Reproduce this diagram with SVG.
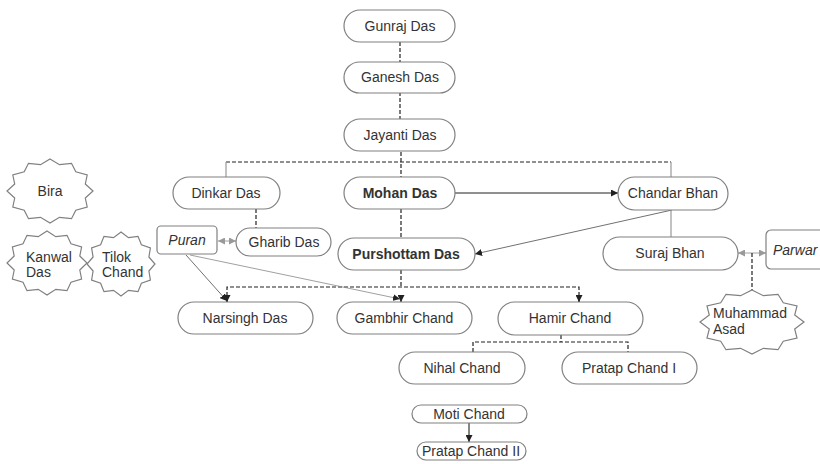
<svg xmlns="http://www.w3.org/2000/svg" width="820" height="464" viewBox="0 0 820 464">
<style>
.pill{fill:#fff;stroke:#808080;stroke-width:1.2}
.box{fill:#fff;stroke:#808080;stroke-width:1.2}
.star{fill:#fff;stroke:#808080;stroke-width:1.2;stroke-linejoin:miter}
text{font-family:"Liberation Sans",Arial,sans-serif;font-size:14px;fill:#333}
.c{text-anchor:middle}
.b{font-weight:bold}
.i{font-style:italic}
.dash{fill:none;stroke:#222;stroke-width:1.2;stroke-dasharray:4 2}
.solid{fill:none;stroke:#222;stroke-width:1.1}
.thin{fill:none;stroke:#333;stroke-width:0.7}
.grey{fill:none;stroke:#999;stroke-width:1.2}
.greythin{fill:none;stroke:#888;stroke-width:0.8}
</style>
<defs>
<marker id="ab" viewBox="0 0 10 10" refX="10" refY="5" markerWidth="7" markerHeight="7" markerUnits="userSpaceOnUse" orient="auto"><path d="M0,0 L10,5 L0,10 z" fill="#222"/></marker>
<marker id="ag" viewBox="0 0 10 10" refX="10" refY="5" markerWidth="7" markerHeight="7" markerUnits="userSpaceOnUse" orient="auto-start-reverse"><path d="M0,0 L10,5 L0,10 z" fill="#999"/></marker>
</defs>

<g id="connectors">
<line class="dash" x1="400" y1="42" x2="400" y2="63"/>
<line class="dash" x1="400" y1="92" x2="400" y2="120"/>
<line class="dash" x1="401" y1="152" x2="401" y2="177"/>
<line class="dash" x1="226" y1="162" x2="671" y2="162"/>
<line class="grey" x1="226" y1="162" x2="226" y2="177"/>
<line class="grey" x1="671" y1="162" x2="671" y2="177"/>
<line class="solid" x1="455" y1="193" x2="618" y2="193" marker-end="url(#ab)"/>
<line class="dash" x1="256" y1="209" x2="256" y2="228"/>
<line class="greythin" x1="218" y1="241" x2="236" y2="241" marker-start="url(#ag)" marker-end="url(#ag)"/>
<line class="dash" x1="401" y1="209" x2="401" y2="238"/>
<line class="thin" x1="672" y1="210" x2="475" y2="254" marker-end="url(#ab)"/>
<line class="grey" x1="671" y1="210" x2="671" y2="237"/>
<line class="greythin" x1="738" y1="253" x2="766" y2="253" marker-start="url(#ag)" marker-end="url(#ag)"/>
<line class="dash" x1="752" y1="253" x2="752" y2="291"/>
<line class="dash" x1="401" y1="270" x2="401" y2="287"/>
<polyline class="dash" points="227,302 227,287 579,287 579,302"/>
<line x1="227" y1="296" x2="227" y2="302" stroke="#222" stroke-width="1.2" marker-end="url(#ab)"/>
<line x1="401" y1="296" x2="401" y2="302" stroke="#222" stroke-width="1.2" marker-end="url(#ab)"/>
<line x1="579" y1="296" x2="579" y2="302" stroke="#222" stroke-width="1.2" marker-end="url(#ab)"/>
<line class="thin" x1="186" y1="255" x2="227" y2="301" marker-end="url(#ab)"/>
<line class="greythin" x1="190" y1="255" x2="400" y2="299" stroke="#555" marker-end="url(#ab)"/>
<line class="dash" x1="561" y1="335" x2="561" y2="342"/>
<polyline class="dash" points="473,352 473,342 628,342 628,352"/>
<line class="solid" x1="469" y1="423" x2="469" y2="442" marker-end="url(#ab)"/>
</g>

<g id="gunraj"><rect class="pill" x="344" y="10" width="111" height="32" rx="16"/><text class="c" x="400" y="31">Gunraj Das</text></g>
<g id="ganesh"><rect class="pill" x="344" y="62" width="111" height="31" rx="15.5"/><text class="c" x="400" y="82">Ganesh Das</text></g>
<g id="jayanti"><rect class="pill" x="344" y="119" width="111" height="32" rx="16"/><text class="c" x="400" y="140">Jayanti Das</text></g>
<g id="dinkar"><rect class="pill" x="173" y="177" width="107" height="32" rx="16"/><text class="c" x="226" y="198">Dinkar Das</text></g>
<g id="mohan"><rect class="pill" x="344" y="177" width="111" height="32" rx="16"/><text class="c b" x="400" y="198">Mohan Das</text></g>
<g id="chandar"><rect class="pill" x="618" y="177" width="110" height="33" rx="16.5"/><text class="c" x="673" y="198">Chandar Bhan</text></g>
<g id="puran"><rect class="box" x="157" y="226" width="60" height="28" rx="4"/><text class="c i" x="187" y="245">Puran</text></g>
<g id="gharib"><rect class="pill" x="236" y="228" width="95" height="28" rx="14"/><text class="c" x="284" y="247">Gharib Das</text></g>
<g id="purshottam"><rect class="pill" x="338" y="238" width="137" height="32" rx="16"/><text class="c b" x="406" y="259">Purshottam Das</text></g>
<g id="suraj"><rect class="pill" x="603" y="237" width="135" height="33" rx="16.5"/><text class="c" x="670" y="258">Suraj Bhan</text></g>
<g id="parwar"><rect class="box" x="766" y="230" width="70" height="39" rx="5"/><text class="i" x="773" y="255">Parwar</text></g>
<g id="narsingh"><rect class="pill" x="178" y="302" width="135" height="32" rx="16"/><text class="c" x="245" y="323">Narsingh Das</text></g>
<g id="gambhir"><rect class="pill" x="337" y="302" width="135" height="32" rx="16"/><text class="c" x="404" y="323">Gambhir Chand</text></g>
<g id="hamir"><rect class="pill" x="498" y="302" width="145" height="33" rx="16.5"/><text class="c" x="570" y="323">Hamir Chand</text></g>
<g id="nihal"><rect class="pill" x="399" y="352" width="126" height="32" rx="16"/><text class="c" x="462" y="373">Nihal Chand</text></g>
<g id="pratap1"><rect class="pill" x="562" y="352" width="135" height="32" rx="16"/><text class="c" x="629" y="373">Pratap Chand I</text></g>
<g id="moti"><rect class="pill" x="412" y="405" width="115" height="18" rx="9"/><text class="c" x="469" y="419">Moti Chand</text></g>
<g id="pratap2"><rect class="pill" x="417" y="442" width="109" height="18" rx="9"/><text class="c" x="471" y="456">Pratap Chand II</text></g>

<g id="bira"><polygon class="star" points="50,159 59.5,164.7 71.5,163.3 75.8,171.8 87.2,175 85.3,184 93,191 85.3,198 87.2,207 75.8,210.2 71.5,218.7 59.5,217.3 50,223 40.5,217.3 28.5,218.7 24.2,210.2 12.8,207 14.7,198 7,191 14.7,184 12.8,175 24.2,171.8 28.5,163.3 40.5,164.7"/><text class="c" x="50" y="196">Bira</text></g>
<g id="kanwal"><polygon class="star" points="47,231 55.8,236.7 67,235.3 71,243.8 81.6,247 79.8,256 87,263 79.8,270 81.6,279 71,282.2 67,290.7 55.8,289.3 47,295 38.2,289.3 27,290.7 23,282.2 12.4,279 14.2,270 7,263 14.2,256 12.4,247 23,243.8 27,235.3 38.2,236.7"/><text x="26" y="262">Kanwal</text><text x="26" y="277">Das</text></g>
<g id="tilok"><polygon class="star" points="121,232 128.5,237.7 138,236.3 141.4,244.8 150.4,248 148.9,257 155,264 148.9,271 150.4,280 141.4,283.2 138,291.7 128.5,290.3 121,296 113.5,290.3 104,291.7 100.6,283.2 91.6,280 93.1,271 87,264 93.1,257 91.6,248 100.6,244.8 104,236.3 113.5,237.7"/><text x="102" y="262">Tilok</text><text x="102" y="277">Chand</text></g>
<g id="muhammad"><polygon class="star" points="752,290 763.4,295.7 778,294.3 783.3,302.8 797,306 794.7,315 804,322 794.7,329 797,338 783.3,341.2 778,349.7 763.4,348.3 752,354 740.6,348.3 726,349.7 720.7,341.2 707,338 709.3,329 700,322 709.3,315 707,306 720.7,302.8 726,294.3 740.6,295.7"/><text x="713" y="318">Muhammad</text><text x="713" y="334">Asad</text></g>
</svg>
